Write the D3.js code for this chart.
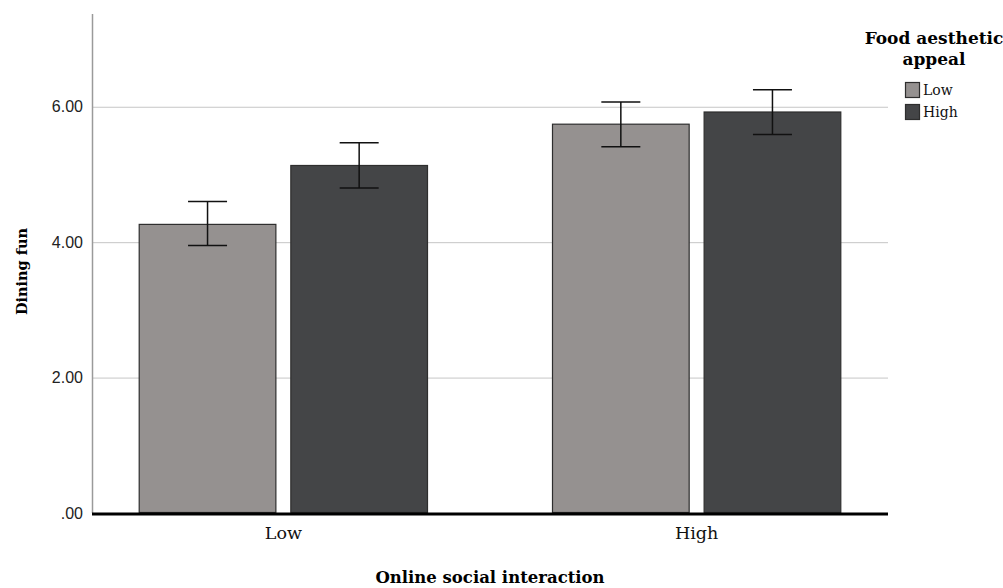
<!DOCTYPE html>
<html>
<head>
<meta charset="utf-8">
<script src="https://cdn.jsdelivr.net/npm/d3@7"></script>
<style>
  body { margin: 0; background: #fff; }
  svg { display: block; }
</style>
</head>
<body>
<div id="chart"></div>
<script>
// values
const groups = ['Low', 'High'];          // Online social interaction
const levels = ['Low', 'High'];          // Food aesthetic appeal
const means = [[4.27, 5.14], [5.75, 5.93]];
const ciLow = [[3.95, 4.80], [5.41, 5.59]];
const ciHigh = [[4.60, 5.47], [6.07, 6.25]];
const yTicks = [0, 2, 4, 6];
const fills = ['#959190', '#444547'];

const W = 1003, H = 588;
const m = { l: 92, r: 115, t: 14, b: 75 };

const svg = d3.select('#chart').append('svg').attr('width', W).attr('height', H);

const x0 = d3.scaleBand().domain(groups).range([m.l, W - m.r]).paddingInner(0.3).paddingOuter(0.113);
const x1 = d3.scaleBand().domain(levels).range([0, x0.bandwidth()]).paddingInner(0.092);
const y = d3.scaleLinear().domain([0, 7.37]).range([H - m.b, m.t]);

const serif = '"DejaVu Serif", serif';

// grid lines
svg.append('g').selectAll('line').data(yTicks.filter(d => d > 0)).enter().append('line')
  .attr('x1', m.l).attr('x2', W - m.r)
  .attr('y1', d => y(d) + 0.5).attr('y2', d => y(d) + 0.5)
  .attr('stroke', '#c6c6c6').attr('stroke-width', 1);

// y axis line
svg.append('line').attr('x1', m.l + 0.5).attr('x2', m.l + 0.5)
  .attr('y1', y.range()[1]).attr('y2', y(0))
  .attr('stroke', '#9a9a9a').attr('stroke-width', 1.5);

// y tick labels
svg.append('g').selectAll('text').data(yTicks).enter().append('text')
  .attr('x', m.l - 9).attr('y', d => y(d) + 5.5)
  .attr('text-anchor', 'end')
  .attr('font-family', '"Liberation Sans", Arial, sans-serif').attr('font-size', 16)
  .attr('fill', '#222')
  .text(d => d === 0 ? '.00' : d.toFixed(2));

// bars
const g = svg.append('g').selectAll('g').data(groups).enter().append('g')
  .attr('transform', d => `translate(${x0(d)},0)`);

g.each(function(grp, gi) {
  const sel = d3.select(this);
  levels.forEach((lv, li) => {
    const bx = x1(lv), bw = x1.bandwidth();
    sel.append('rect')
      .attr('x', bx + 0.5).attr('y', y(means[gi][li]) + 0.5)
      .attr('width', bw - 1).attr('height', y(0) - y(means[gi][li]) - 1)
      .attr('fill', fills[li]).attr('stroke', '#2e2e2e').attr('stroke-width', 1.2);
    const cx = bx + bw / 2;
    const cap = 19.5;
    sel.append('line').attr('x1', cx).attr('x2', cx)
      .attr('y1', y(ciHigh[gi][li])).attr('y2', y(ciLow[gi][li]))
      .attr('stroke', '#111').attr('stroke-width', 1.5);
    [ciHigh[gi][li], ciLow[gi][li]].forEach(v => {
      sel.append('line').attr('x1', cx - cap).attr('x2', cx + cap)
        .attr('y1', y(v)).attr('y2', y(v))
        .attr('stroke', '#111').attr('stroke-width', 1.5);
    });
  });
});

// baseline
svg.append('line').attr('x1', m.l).attr('x2', W - m.r)
  .attr('y1', y(0) + 1).attr('y2', y(0) + 1)
  .attr('stroke', '#000').attr('stroke-width', 3);

// x tick labels
svg.append('g').selectAll('text').data(groups).enter().append('text')
  .attr('x', d => x0(d) + x0.bandwidth() / 2).attr('y', y(0) + 26)
  .attr('text-anchor', 'middle')
  .attr('font-family', serif).attr('font-size', 17.5).attr('fill', '#111')
  .text(d => d);

// axis titles
svg.append('text').attr('x', (m.l + W - m.r) / 2).attr('y', 583)
  .attr('text-anchor', 'middle').attr('font-family', serif).attr('font-size', 16.5)
  .attr('font-weight', 'bold').attr('fill', '#000')
  .text('Online social interaction');

svg.append('text').attr('transform', `translate(27,${(y(0) + m.t) / 2 + 8}) rotate(-90)`)
  .attr('text-anchor', 'middle').attr('font-family', serif).attr('font-size', 14.5)
  .attr('font-weight', 'bold').attr('fill', '#000')
  .text('Dining fun');

// legend
const leg = svg.append('g');
['Food aesthetic', 'appeal'].forEach((t, i) => {
  leg.append('text').attr('x', 934).attr('y', 44 + i * 21)
    .attr('text-anchor', 'middle').attr('font-family', serif).attr('font-size', 17)
    .attr('font-weight', 'bold').attr('fill', '#000').text(t);
});
levels.forEach((lv, i) => {
  leg.append('rect').attr('x', 905.5).attr('y', 82.5 + i * 22)
    .attr('width', 14).attr('height', 15)
    .attr('fill', fills[i]).attr('stroke', '#2e2e2e').attr('stroke-width', 1.2);
  leg.append('text').attr('x', 923).attr('y', 95 + i * 22)
    .attr('font-family', serif).attr('font-size', 14).attr('fill', '#111').text(lv);
});
</script>
</body>
</html>
